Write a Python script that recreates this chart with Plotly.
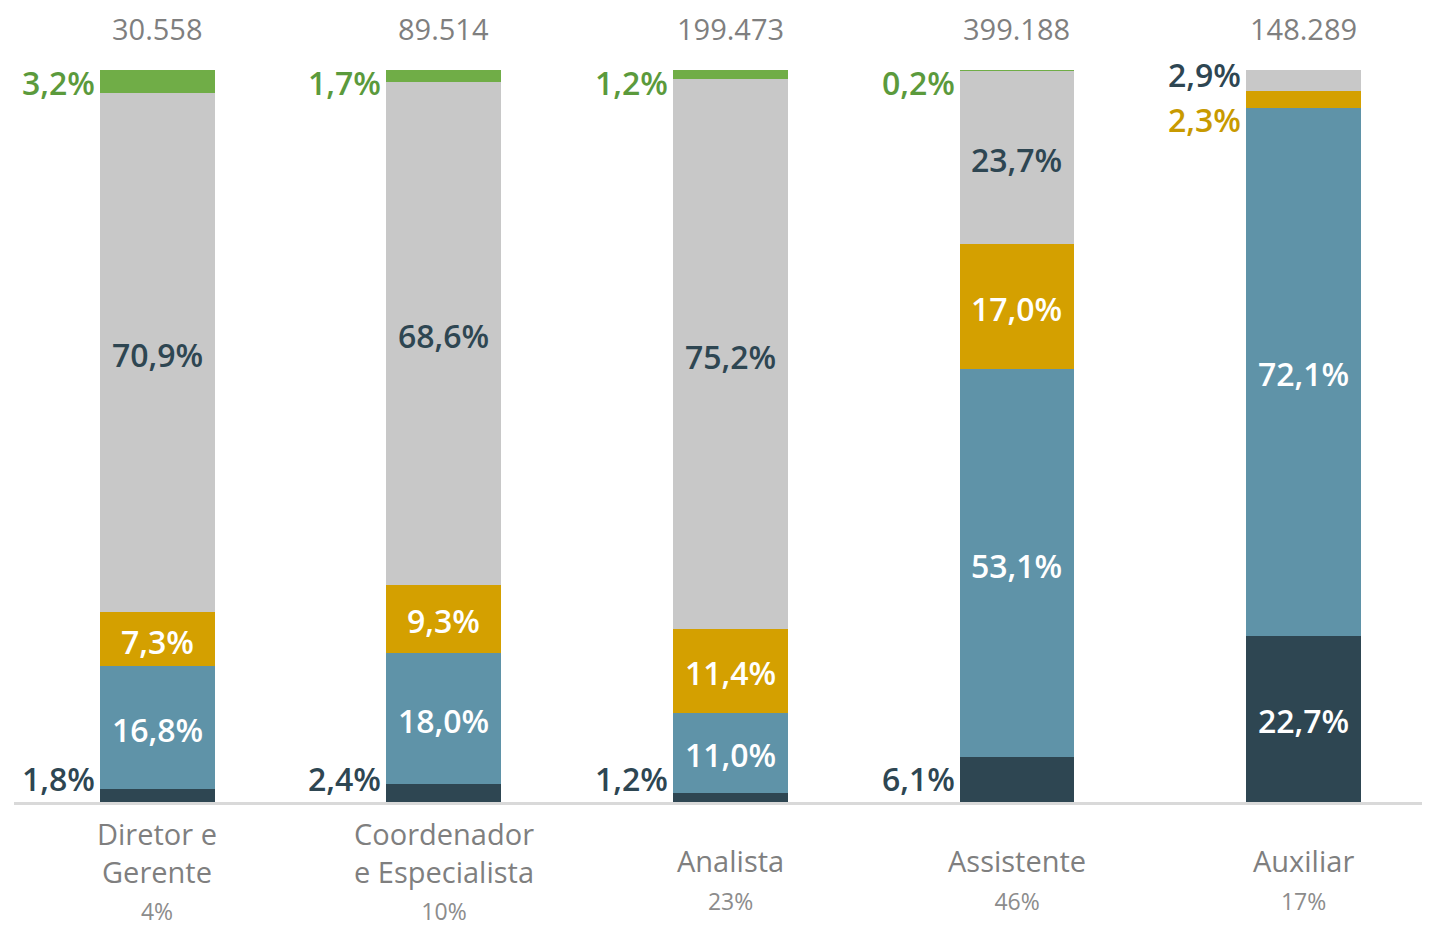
import plotly.graph_objects as go

# Données
cat_labels = ["Diretor e<br>Gerente", "Coordenador<br>e Especialista", "Analista", "Assistente", "Auxiliar"]
shares = ["4%", "10%", "23%", "46%", "17%"]
totals = ["30.558", "89.514", "199.473", "399.188", "148.289"]

seg_dark = [1.8, 2.4, 1.2, 6.1, 22.7]
seg_blue = [16.8, 18.0, 11.0, 53.1, 72.1]
seg_gold = [7.3, 9.3, 11.4, 17.0, 2.3]
seg_gray = [70.9, 68.6, 75.2, 23.7, 2.9]
seg_green = [3.2, 1.7, 1.2, 0.2, 0.1]

series = [seg_dark, seg_blue, seg_gold, seg_gray, seg_green]
colors = ["#2e4652", "#5f93a8", "#d4a000", "#c8c8c8", "#70ad47"]
inside_font = ["white", "white", "white", "#2e4652", "white"]
outside_font = ["#2e4652", "#2e4652", "#c89a00", "#2e4652", "#5b9a3c"]

FONT = "Open Sans"
LSIZE = 32
x = list(range(len(cat_labels)))


def fmt(v):
    return f"{v:.1f}".replace(".", ",") + "%"


fig = go.Figure()
for k, vals in enumerate(series):
    fig.add_trace(go.Bar(x=x, y=vals, marker=dict(color=colors[k], line=dict(width=0)),
                         showlegend=False, hoverinfo="skip"))

annotations = []
base = [0.0] * len(x)
for k, vals in enumerate(series):
    for i, v in enumerate(vals):
        mid = base[i] + v / 2
        lab = fmt(v)
        font = dict(family=FONT, size=LSIZE, color=outside_font[k], weight=600)
        if k == 4:
            # étiquette verte à gauche du haut de la barre
            if v >= 0.15:
                annotations.append(dict(x=i - 0.2, y=100, text=lab, xanchor="right", yanchor="middle",
                                        xshift=-3, yshift=-12, showarrow=False, font=font))
        elif v >= 7:
            annotations.append(dict(x=i, y=mid, text=lab, showarrow=False, yshift=-2,
                                    font=dict(family=FONT, size=LSIZE, color=inside_font[k], weight=600)))
        elif k == 0:
            annotations.append(dict(x=i - 0.2, y=0, text=lab, xanchor="right", yanchor="middle",
                                    xshift=-3, yshift=24, showarrow=False, font=font))
        else:
            shift = 6 if k == 3 else -20
            annotations.append(dict(x=i - 0.2, y=mid, text=lab, xanchor="right", yanchor="middle",
                                    xshift=-3, yshift=shift, showarrow=False, font=font))
        base[i] += v

# Totaux au-dessus des barres
for i, t in enumerate(totals):
    annotations.append(dict(x=i, y=100, text=t, showarrow=False, yanchor="middle", yshift=42,
                            font=dict(family=FONT, size=29, color="#7f7f7f")))

# Libellés des catégories (remontés un peu quand il y a trois lignes)
for i, (c, s) in enumerate(zip(cat_labels, shares)):
    extra = c.count("<br>")
    annotations.append(dict(x=i, y=0, text=f"{c}<br><span style='font-size:23px;color:#8c8c8c'>{s}</span>",
                            showarrow=False, yanchor="middle", yshift=-77 + 9 * extra,
                            font=dict(family=FONT, size=29, color="#7f7f7f")))

fig.update_layout(
    barmode="stack",
    bargap=0.6,
    width=1422,
    height=919,
    margin=dict(l=6, r=0, t=62, b=125),
    plot_bgcolor="white",
    paper_bgcolor="white",
    xaxis=dict(range=[-0.5, 4.442], showticklabels=False, showgrid=False, zeroline=False,
               showline=True, linecolor="#d9d9d9", linewidth=3, fixedrange=True),
    yaxis=dict(range=[0, 100], visible=False, fixedrange=True),
    annotations=annotations,
)

fig.write_html("out.html")
